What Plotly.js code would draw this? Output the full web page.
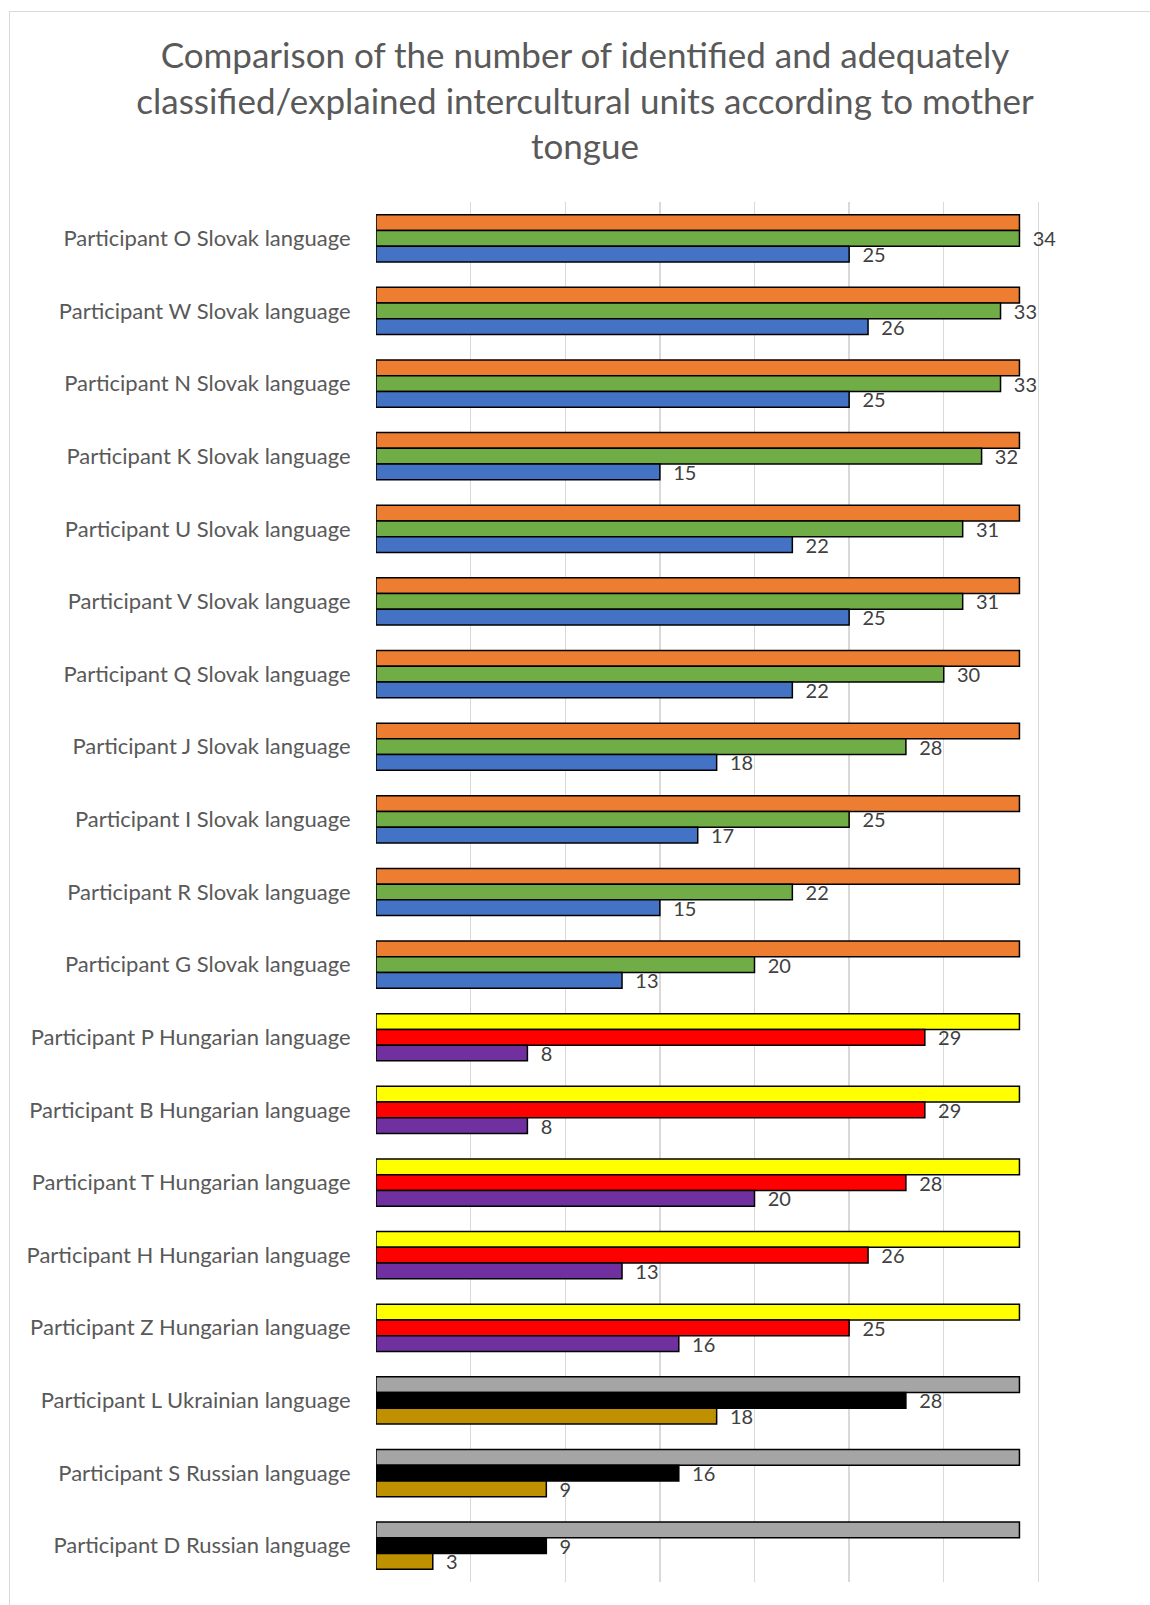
<!DOCTYPE html>
<html>
<head>
<meta charset="utf-8">
<script src="https://cdn.plot.ly/plotly-3.0.1.min.js"></script>
<style>
  html, body { margin: 0; padding: 0; background: #ffffff; overflow: hidden; }
  #chart { position: absolute; left: 0; top: 0; width: 1150px; height: 1605px; }
  #frame { position: absolute; left: 9px; top: 11px; width: 1180px; height: 1640px;
           border: 1px solid #d9d9d9; pointer-events: none; }
</style>
</head>
<body>
<div id="chart"></div>
<div id="frame"></div>
<script>
// Categories, top to bottom
const categories = [
  "Participant O Slovak language",
  "Participant W Slovak language",
  "Participant N Slovak language",
  "Participant K Slovak language",
  "Participant U Slovak language",
  "Participant V Slovak language",
  "Participant Q Slovak language",
  "Participant J Slovak language",
  "Participant I Slovak language",
  "Participant R Slovak language",
  "Participant G Slovak language",
  "Participant P Hungarian language",
  "Participant B Hungarian language",
  "Participant T Hungarian language",
  "Participant H Hungarian language",
  "Participant Z Hungarian language",
  "Participant L Ukrainian language",
  "Participant S Russian language",
  "Participant D Russian language"
];
// Total number of intercultural units (top bar)
const totalUnits = [34,34,34,34,34,34,34,34,34,34,34,34,34,34,34,34,34,34,34];
// Identified units (middle bar)
const identified = [34,33,33,32,31,31,30,28,25,22,20,29,29,28,26,25,28,16,9];
// Adequately classified/explained units (bottom bar)
const classified = [25,26,25,15,22,25,22,18,17,15,13,8,8,20,13,16,18,9,3];
// Language group of each participant
const language = ["Slovak","Slovak","Slovak","Slovak","Slovak","Slovak","Slovak","Slovak","Slovak","Slovak","Slovak",
  "Hungarian","Hungarian","Hungarian","Hungarian","Hungarian","Ukrainian","Russian","Russian"];

const palette = {
  Slovak:    ["#ED7D31", "#70AD47", "#4472C4"],
  Hungarian: ["#FFFF00", "#FF0000", "#7030A0"],
  Ukrainian: ["#A5A5A5", "#000000", "#BF9000"],
  Russian:   ["#A5A5A5", "#000000", "#BF9000"]
};
const colorsFor = i => language.map(l => palette[l][i]);

const FONT = "Lato, 'Open Sans', sans-serif";
const NB = "\u00a0\u00a0";

function barTrace(values, idx, withText) {
  const t = {
    type: "bar",
    orientation: "h",
    y: categories,
    x: values,
    marker: { color: colorsFor(idx), line: { color: "#000000", width: 1.5 } },
    hoverinfo: "none",
    cliponaxis: false,
    constraintext: "none"
  };
  if (withText) {
    t.text = values.map(String);
    t.texttemplate = NB + "%{text}";
    t.textposition = "outside";
    t.textfont = { family: FONT, size: 20, color: "#404040" };
  } else {
    t.textposition = "none";
  }
  return t;
}

const data = [
  barTrace(totalUnits, 0, false),
  barTrace(identified, 1, true),
  barTrace(classified, 2, true)
];

const layout = {
  width: 1150,
  height: 1605,
  paper_bgcolor: "#ffffff",
  plot_bgcolor: "#ffffff",
  showlegend: false,
  barmode: "group",
  bargap: 0.35,
  bargroupgap: 0,
  margin: { l: 376, r: 17, t: 202, b: 23, pad: 0 },
  title: {
    text: "Comparison of the number of identified and adequately<br>classified/explained intercultural units according to mother<br>tongue",
    font: { family: FONT, size: 35, color: "#595959" },
    x: 0.5087, xref: "container", xanchor: "center",
    y: 1 - 68 / 1605, yref: "container", yanchor: "middle"
  },
  xaxis: {
    range: [0, 40],
    dtick: 5,
    tick0: 0,
    showticklabels: false,
    showgrid: true,
    gridcolor: "#d9d9d9",
    gridwidth: 1.3,
    zeroline: false,
    showline: false,
    ticks: "",
    fixedrange: true
  },
  yaxis: {
    type: "category",
    autorange: "reversed",
    showgrid: false,
    zeroline: false,
    showline: false,
    ticks: "outside",
    ticklen: 20,
    tickcolor: "rgba(0,0,0,0)",
    tickfont: { family: FONT, size: 22, color: "#595959" },
    fixedrange: true
  }
};

Plotly.newPlot("chart", data, layout, { staticPlot: true, displayModeBar: false });
</script>
</body>
</html>
